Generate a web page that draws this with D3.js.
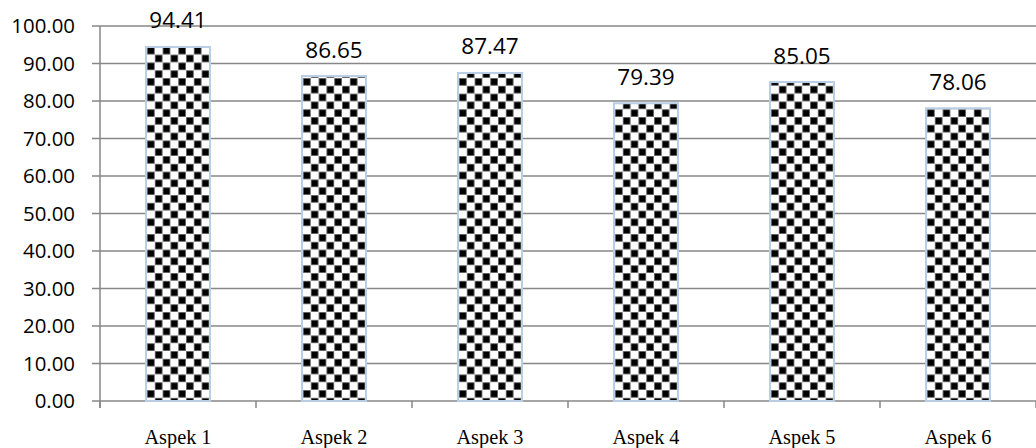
<!DOCTYPE html>
<html><head><meta charset="utf-8">
<script src="https://cdn.jsdelivr.net/npm/d3@7"></script>
<style>html,body{margin:0;padding:0;background:#fff;}svg{display:block;}</style>
</head><body>
<script>
const categories = ["Aspek 1","Aspek 2","Aspek 3","Aspek 4","Aspek 5","Aspek 6"];
const values = [94.41, 86.65, 87.47, 79.39, 85.05, 78.06];
const yTicks = [0,10,20,30,40,50,60,70,80,90,100];

const W = 1036, H = 448;
const svg = d3.select("body").append("svg").attr("width", W).attr("height", H);

const x = d3.scaleBand().domain(categories).range([100, 1036]).padding(0);
const y = d3.scaleLinear().domain([0, 100]).range([401, 26]);

const defs = svg.append("defs");
const pat = defs.append("pattern").attr("id","chk").attr("patternUnits","userSpaceOnUse")
  .attr("width",15.6).attr("height",15.6).attr("x",147).attr("y",0);
pat.append("rect").attr("width",15.6).attr("height",15.6).attr("fill","#fff");
[[0,0],[7.8,7.8]].forEach(([px,py])=>{
  pat.append("rect").attr("x",px).attr("y",py).attr("width",7.8).attr("height",7.8).attr("fill","#8a8a8a");
  pat.append("rect").attr("x",px+0.7).attr("y",py+0.7).attr("width",6.4).attr("height",6.4).attr("fill","#000");
});

// gridlines
svg.append("g").selectAll("line").data(yTicks).join("line")
  .attr("x1", 92).attr("x2", 1036)
  .attr("y1", d => y(d)).attr("y2", d => y(d))
  .attr("stroke", "#878787").attr("stroke-width", 1.5);

// y axis line
svg.append("line").attr("x1",100).attr("x2",100).attr("y1",y(100)).attr("y2",408)
  .attr("stroke","#878787").attr("stroke-width",1.5);

// category ticks
const tickXs = categories.map(c => x(c)).concat([1036]);
svg.append("g").selectAll("line").data(tickXs).join("line")
  .attr("x1", d => d).attr("x2", d => d).attr("y1", 401).attr("y2", 408)
  .attr("stroke","#878787").attr("stroke-width",1.5);

// y labels
svg.append("g").selectAll("text").data(yTicks).join("text")
  .attr("x", 75).attr("y", d => y(d) + 7.3)
  .attr("text-anchor","end")
  .attr("font-family","'Open Sans', sans-serif").attr("font-size", 20.4).attr("fill","#000")
  .text(d => d.toFixed(2));

// bars
const bw = 64;
svg.append("g").selectAll("rect").data(values).join("rect")
  .attr("x", (d,i) => x(categories[i]) + x.bandwidth()/2 - bw/2)
  .attr("y", d => y(d))
  .attr("width", bw)
  .attr("height", d => y(0) - y(d))
  .attr("fill","url(#chk)")
  .attr("stroke","#b9cde5").attr("stroke-width",2);

// value labels
svg.append("g").selectAll("text").data(values).join("text")
  .attr("x", (d,i) => x(categories[i]) + x.bandwidth()/2)
  .attr("y", d => y(d) - 18.5)
  .attr("text-anchor","middle")
  .attr("font-family","'Open Sans', sans-serif").attr("font-size", 22.5).attr("fill","#000")
  .text(d => d.toFixed(2));

// category labels
svg.append("g").selectAll("text").data(categories).join("text")
  .attr("x", d => x(d) + x.bandwidth()/2)
  .attr("y", 444)
  .attr("text-anchor","middle")
  .attr("font-family","'Liberation Serif', 'Times New Roman', serif").attr("font-size", 20.3).attr("fill","#000")
  .text(d => d);
</script>
</body></html>
